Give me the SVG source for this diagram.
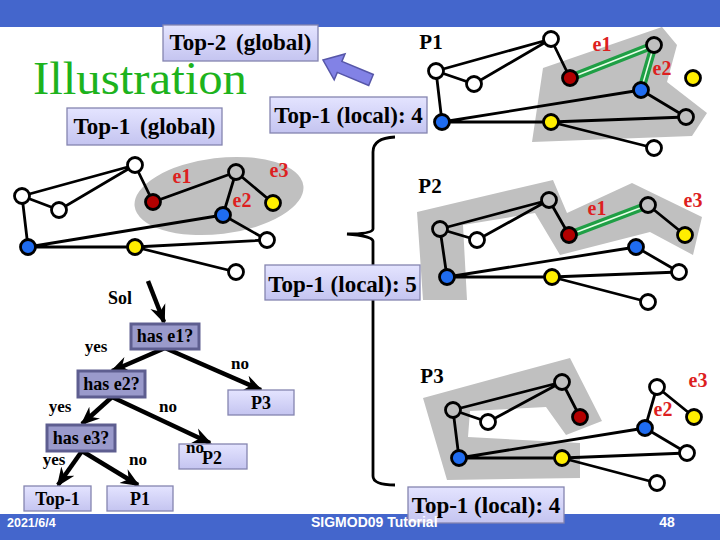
<svg xmlns="http://www.w3.org/2000/svg" width="720" height="540" viewBox="0 0 720 540">
<defs>
<linearGradient id="lav" x1="0" y1="0" x2="0" y2="1">
<stop offset="0" stop-color="#e4e4ff"/>
<stop offset="1" stop-color="#c4c4f0"/>
</linearGradient>
<marker id="ah" markerUnits="userSpaceOnUse" markerWidth="20" markerHeight="18" refX="17" refY="9" orient="auto">
<path d="M0,1 L19,9 L0,17 L6,9 Z" fill="#000"/>
</marker>
<style>
.lbl{font-family:"Liberation Serif","Times New Roman",serif;font-weight:bold;fill:#000}
.big{font-size:23px}
.t18{font-size:18px}
.t17{font-size:17px}
.red{font-family:"Liberation Serif","Times New Roman",serif;font-weight:bold;font-size:20px;fill:#dd1f1f}
.box{fill:url(#lav);stroke:#8585b0;stroke-width:1.3}
.dbox{fill:#9a9acb;stroke:#5e5e90;stroke-width:3}
.e{stroke:#000;stroke-width:2.8;fill:none}
.g{stroke:#1f9f45;stroke-width:8;fill:none}
.gw{stroke:#e8ffe8;stroke-width:1.5;fill:none}
.shade{fill:#c0c0c0}
.n{stroke:#000;stroke-width:2.8}
.w{fill:#fff}
.s{fill:#c0c0c0}
.r{fill:#b30000}
.b{fill:#1f6cf0}
.y{fill:#ffee00}
.ta{stroke:#000;stroke-width:4.5;fill:none;marker-end:url(#ah)}
.foot{font-family:"Liberation Sans",Arial,sans-serif;font-weight:bold;fill:#fff}
</style>
</defs>
<rect width="720" height="540" fill="#fff"/>
<rect id="topbar" x="0" y="0" width="720" height="27" fill="#4466cc"/>
<rect id="bottombar" x="0" y="514" width="720" height="26" fill="#4466cc"/>

<text id="title" x="33" y="94" style="font-family:'Liberation Serif','Times New Roman',serif;font-size:47px;fill:#1db31d" textLength="214" lengthAdjust="spacingAndGlyphs">Illustration</text>

<!-- gray shades -->
<g id="shades">
<ellipse cx="219" cy="196" rx="85" ry="38" transform="rotate(-7 219 196)" class="shade"/>
<polygon class="shade" points="543,68 662,27 677,45 667,82 707,113 692,136 532,142"/>
<polygon class="shade" points="417,212 553,180 567,213 632,183 702,217 693,255 650,232 560,255 535,213 463,225 467,300 423,300"/>
<polygon class="shade" points="423,398 570,358 602,421 566,435 546,407 470,411 468,437 580,443 580,478 447,480"/>
</g>

<!-- connectors -->
<g id="connectors">
<!-- middle-left graph -->
<path class="e" d="M22,196 L135,165 M22,196 L59,210 L135,165 M22,196 L28,247 M135,165 L153,202 L236,172 M236,172 L223,215 M236,172 L273,203 M223,215 L267,240 M28,247 L223,215 M28,247 L135,247 L267,240 M135,247 L236,272"/>
<!-- P1 graph -->
<path class="e" d="M436,71 L551,39 M436,71 L474,84 L551,39 M436,71 L442,122 M551,39 L570,78 M641,90 L686,117 M442,122 L641,90 M442,122 L551,122 L686,117 M551,122 L654,148"/>
<path class="g" d="M570,78 L654,45 M654,45 L641,90"/>
<path class="gw" d="M570,78 L654,45 M654,45 L641,90"/>
<!-- P2 graph -->
<path class="e" d="M440,229 L549,200 M440,229 L477,240 L549,200 M440,229 L447,277 M549,200 L569,235 M648,205 L685,235 M636,247 L679,272 M447,277 L636,247 M447,277 L552,277 L679,272 M552,277 L648,302"/>
<path class="g" d="M569,235 L648,205"/>
<path class="gw" d="M569,235 L648,205"/>
<!-- P3 graph -->
<path class="e" d="M453,410 L562,382 M453,410 L488,422 L562,382 M453,410 L459,458 M562,382 L580,417 M657,387 L645,428 M657,387 L694,417 M645,428 L687,453 M459,458 L645,428 M459,458 L562,458 L687,453 M562,458 L657,483"/>
<!-- brace -->
<path class="e" stroke-width="3" d="M395,137 Q373,138 373,152 L373,229 Q372,234 347,234 Q372,236 373,241 L373,476 Q373,485 395,485"/>
<!-- tree arrows -->
<line class="ta" x1="148" y1="281" x2="164" y2="322"/>
<line class="ta" x1="165" y1="348" x2="261" y2="390"/>
<line class="ta" x1="165" y1="348" x2="112" y2="371"/>
<line class="ta" x1="112" y1="397" x2="82" y2="424"/>
<line class="ta" x1="112" y1="397" x2="210" y2="443"/>
<line class="ta" x1="82" y1="451" x2="58" y2="485"/>
<line class="ta" x1="82" y1="451" x2="138" y2="485"/>
<!-- block arrow -->
<polygon points="323,60 345,54 341.9,61.4 373.3,74.5 368.7,85.5 337.3,72.4 334.2,79.8" fill="#8282e6" stroke="#5656a8" stroke-width="1.5"/>
</g>

<!-- middle-left graph nodes -->
<g id="graph-global">
<circle class="n w" cx="22" cy="196" r="7.5"/>
<circle class="n w" cx="59" cy="210" r="7.5"/>
<circle class="n w" cx="135" cy="165" r="7.5"/>
<circle class="n r" cx="153" cy="202" r="7.5"/>
<circle class="n s" cx="236" cy="172" r="7.5"/>
<circle class="n y" cx="273" cy="203" r="7.5"/>
<circle class="n b" cx="223" cy="215" r="7.5"/>
<circle class="n w" cx="267" cy="240" r="7.5"/>
<circle class="n b" cx="28" cy="247" r="7.5"/>
<circle class="n y" cx="135" cy="247" r="7.5"/>
<circle class="n w" cx="236" cy="272" r="7.5"/>
<text class="red" x="182" y="183" text-anchor="middle">e1</text>
<text class="red" x="242" y="207" text-anchor="middle">e2</text>
<text class="red" x="279" y="177" text-anchor="middle">e3</text>
</g>

<g id="graph-P1">
<text class="lbl" x="431" y="49" text-anchor="middle" font-size="21">P1</text>
<circle class="n w" cx="436" cy="71" r="7.5"/>
<circle class="n w" cx="474" cy="84" r="7.5"/>
<circle class="n w" cx="551" cy="39" r="7.5"/>
<circle class="n r" cx="570" cy="78" r="7.5"/>
<circle class="n s" cx="654" cy="45" r="7.5"/>
<circle class="n b" cx="641" cy="90" r="7.5"/>
<circle class="n y" cx="693" cy="78" r="7.5"/>
<circle class="n s" cx="686" cy="117" r="7.5"/>
<circle class="n b" cx="442" cy="122" r="7.5"/>
<circle class="n y" cx="551" cy="122" r="7.5"/>
<circle class="n w" cx="654" cy="148" r="7.5"/>
<text class="red" x="602" y="51" text-anchor="middle">e1</text>
<text class="red" x="662" y="75" text-anchor="middle">e2</text>
</g>

<g id="graph-P2">
<text class="lbl" x="430" y="193" text-anchor="middle" font-size="21">P2</text>
<circle class="n s" cx="440" cy="229" r="7.5"/>
<circle class="n w" cx="477" cy="240" r="7.5"/>
<circle class="n s" cx="549" cy="200" r="7.5"/>
<circle class="n r" cx="569" cy="235" r="7.5"/>
<circle class="n s" cx="648" cy="205" r="7.5"/>
<circle class="n y" cx="685" cy="235" r="7.5"/>
<circle class="n b" cx="636" cy="247" r="7.5"/>
<circle class="n w" cx="679" cy="272" r="7.5"/>
<circle class="n b" cx="447" cy="277" r="7.5"/>
<circle class="n y" cx="552" cy="277" r="7.5"/>
<circle class="n w" cx="648" cy="302" r="7.5"/>
<text class="red" x="597" y="215" text-anchor="middle">e1</text>
<text class="red" x="693" y="207" text-anchor="middle">e3</text>
</g>

<g id="graph-P3">
<text class="lbl" x="432" y="383" text-anchor="middle" font-size="21">P3</text>
<circle class="n s" cx="453" cy="410" r="7.5"/>
<circle class="n w" cx="488" cy="422" r="7.5"/>
<circle class="n s" cx="562" cy="382" r="7.5"/>
<circle class="n r" cx="580" cy="417" r="7.5"/>
<circle class="n w" cx="657" cy="387" r="7.5"/>
<circle class="n y" cx="694" cy="417" r="7.5"/>
<circle class="n b" cx="645" cy="428" r="7.5"/>
<circle class="n w" cx="687" cy="453" r="7.5"/>
<circle class="n b" cx="459" cy="458" r="7.5"/>
<circle class="n y" cx="562" cy="458" r="7.5"/>
<circle class="n w" cx="657" cy="483" r="7.5"/>
<text class="red" x="698" y="387" text-anchor="middle">e3</text>
<text class="red" x="663" y="416" text-anchor="middle">e2</text>
</g>

<g id="label-top2-global">
<rect class="box" x="163" y="25" width="155" height="36"/>
<text class="lbl big" x="240.5" y="50" text-anchor="middle" word-spacing="4">Top-2 (global)</text>
</g>
<g id="label-top1-global">
<rect class="box" x="67" y="108" width="155" height="37"/>
<text class="lbl big" x="144.5" y="134" text-anchor="middle" word-spacing="4">Top-1 (global)</text>
</g>
<g id="label-local4a">
<rect class="box" x="270" y="97" width="157" height="36"/>
<text class="lbl big" x="348.5" y="123" text-anchor="middle">Top-1 (local): 4</text>
</g>
<g id="label-local5">
<rect class="box" x="265" y="265" width="155" height="35"/>
<text class="lbl big" x="342.5" y="292" text-anchor="middle">Top-1 (local): 5</text>
</g>
<g id="label-local4b">
<rect class="box" x="408" y="487" width="156" height="36"/>
<text class="lbl big" x="486" y="513" text-anchor="middle">Top-1 (local): 4</text>
</g>

<!-- decision tree -->
<g id="tree-sol"><text class="lbl t18" x="120" y="304" text-anchor="middle">Sol</text></g>
<g id="tree-has-e1">
<rect class="dbox" x="131" y="324" width="68" height="25"/>
<text class="lbl t18" x="165" y="342" text-anchor="middle">has e1?</text>
</g>
<g id="tree-has-e2">
<rect class="dbox" x="78" y="371" width="67" height="26"/>
<text class="lbl t18" x="111.5" y="390" text-anchor="middle">has e2?</text>
</g>
<g id="tree-has-e3">
<rect class="dbox" x="47" y="425" width="68" height="26"/>
<text class="lbl t18" x="81" y="444" text-anchor="middle">has e3?</text>
</g>
<g id="tree-P3">
<rect class="box" x="228" y="390" width="66" height="25"/>
<text class="lbl t18" x="261" y="409" text-anchor="middle">P3</text>
</g>
<g id="tree-P2">
<rect class="box" x="179" y="444" width="68" height="25"/>
<text class="lbl t18" x="212" y="464" text-anchor="middle">P2</text>
</g>
<g id="tree-Top1">
<rect class="box" x="24" y="486" width="67" height="25"/>
<text class="lbl t18" x="57.5" y="505" text-anchor="middle">Top-1</text>
</g>
<g id="tree-P1">
<rect class="box" x="107" y="486" width="66" height="25"/>
<text class="lbl t18" x="140" y="505" text-anchor="middle">P1</text>
</g>
<g id="tree-labels">
<text class="lbl t17" x="96" y="352" text-anchor="middle">yes</text>
<text class="lbl t17" x="240" y="369" text-anchor="middle">no</text>
<text class="lbl t17" x="60" y="412" text-anchor="middle">yes</text>
<text class="lbl t17" x="168" y="412" text-anchor="middle">no</text>
<text class="lbl t17" x="54" y="465" text-anchor="middle">yes</text>
<text class="lbl t17" x="138" y="465" text-anchor="middle">no</text>
<text class="lbl t17" x="195" y="453" text-anchor="middle">no</text>
</g>

<g id="footer">
<text class="foot" x="7" y="527" font-size="12.5">2021/6/4</text>
<text class="foot" x="311" y="527" font-size="14">SIGMOD09 Tutorial</text>
<text class="foot" x="667" y="527" font-size="14" text-anchor="middle">48</text>
</g>
</svg>
